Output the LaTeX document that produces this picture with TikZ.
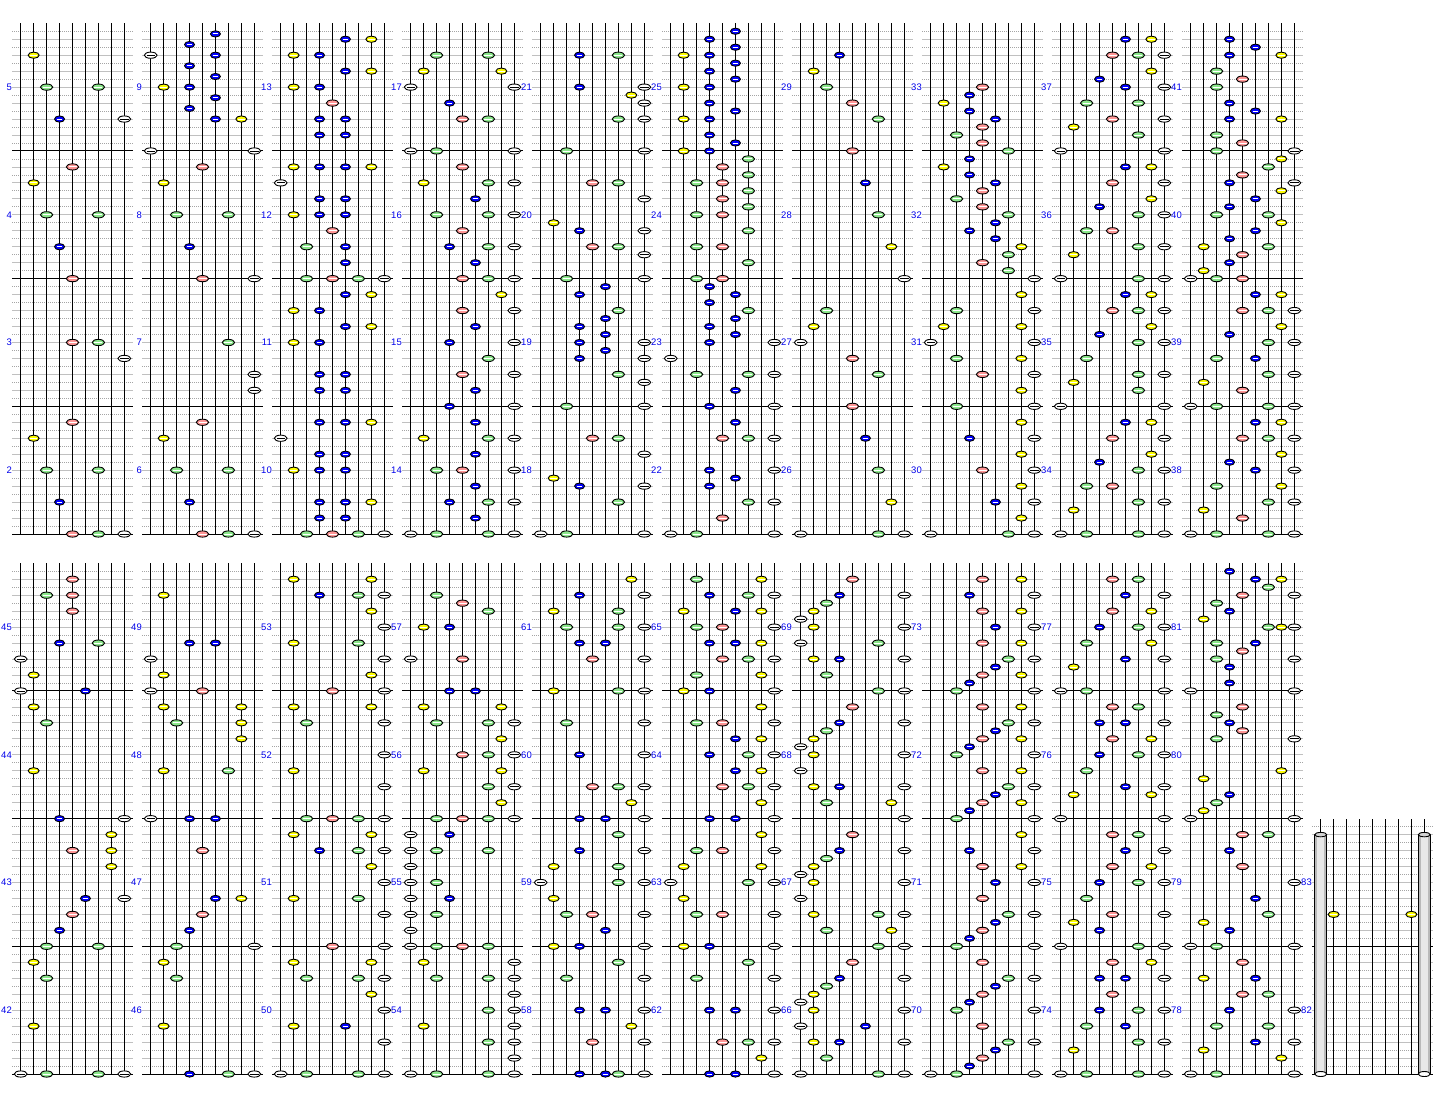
\documentclass[tikz,border=0pt]{standalone}
\usepackage{fontspec}
\setmainfont{Liberation Sans}
\definecolor{nY}{RGB}{255,255,0}
\definecolor{nG}{RGB}{140,232,140}
\definecolor{nB}{RGB}{0,0,255}
\definecolor{nR}{RGB}{255,150,150}
\definecolor{lbc}{RGB}{0,0,235}
\definecolor{glc}{RGB}{192,192,192}
\definecolor{dlc}{RGB}{165,165,165}
\tikzset{
  gline/.style={draw=glc,line width=0.8pt},
  dline/.style={draw=dlc,line width=0.8pt,dash pattern=on 1pt off 1pt},
  mline/.style={draw=black,line width=1pt},
  vline/.style={draw=black,line width=0.9pt},
  lbl/.style={text=lbc,font=\fontsize{9.5}{10}\selectfont,anchor=east,inner sep=0pt},
}
\newcommand\nt[2]{%
 \pgfmathsetmacro\nx{20.7+12.95*(#1-1)}%
 \pgfmathsetmacro\ny{-7.98*(#2)}%
 \ifcase#1\relax\or
   \def\nc{white}\def\na{6.4}\def\sc{black}\or
   \def\nc{nY}\def\na{5.5}\def\sc{white}\or
   \def\nc{nG}\def\na{6.2}\def\sc{white}\or
   \def\nc{nB}\def\na{5}\def\sc{white}\or
   \def\nc{nR}\def\na{6.2}\def\sc{white}\or
   \def\nc{nB}\def\na{5}\def\sc{white}\or
   \def\nc{nG}\def\na{6.2}\def\sc{white}\or
   \def\nc{nY}\def\na{5.5}\def\sc{white}\or
   \def\nc{white}\def\na{6.4}\def\sc{black}\fi
 \filldraw[fill=\nc,draw=black,line width=0.9pt] (\nx,\ny) ellipse [x radius=\na pt,y radius=3.1pt];
 \draw[draw=\sc,line width=0.9pt] (\nx-\na+2.2,\ny) -- (\nx+\na-2.2,\ny);
}
% grid: col, bottom, last row index
\newcommand\grid[3]{%
 \begin{scope}[shift={(130*#1,#2)}]
  \foreach \k in {1,...,#3}{%
    \pgfmathtruncatemacro\mm{mod(\k,16)}%
    \pgfmathtruncatemacro\ee{mod(\k,2)}%
    \ifnum\mm=0 \else
      \ifnum\ee=0 \draw[gline] (12,-7.98*\k) -- (132.7,-7.98*\k);
      \else \draw[dline] (12,-7.98*\k) -- (132.7,-7.98*\k);\fi
    \fi}
  \foreach \l in {0,...,8}{\draw[vline] (20.7+12.95*\l,0) -- (20.7+12.95*\l,{-7.98*(#3+1)});}
  \foreach \k in {0,16,...,#3}{\draw[mline] (12,-7.98*\k) -- (132.7,-7.98*\k);}
 \end{scope}}
\newcommand\labs[3]{% col, bottom, first measure
 \begin{scope}[shift={(130*#1,#2)}]
  \foreach \i in {0,1,2,3}{\pgfmathtruncatemacro\mn{#3+\i}\node[lbl] at (12,{-7.98*(8+16*\i)}) {\mn};}
 \end{scope}}
\newcommand\notes[3]{% col, bottom, list
 \begin{scope}[shift={(130*#1,#2)}]
  \foreach \l/\r in {#3}{\nt{\l}{\r}}
 \end{scope}}
\begin{document}
\begin{tikzpicture}[x=1pt,y=-1pt]
\useasboundingbox (0,0) rectangle (1448,1100);
\fill[white] (0,0) rectangle (1448,1100);
% grids
\foreach \c in {0,...,9}{\grid{\c}{534}{63}\grid{\c}{1074}{63}}
\grid{10}{1074}{31}
% labels
\foreach \c in {0,...,9}{\pgfmathtruncatemacro\fa{2+4*\c}\pgfmathtruncatemacro\fb{42+4*\c}\labs{\c}{534}{\fa}\labs{\c}{1074}{\fb}}
\begin{scope}[shift={(1300,1074)}]
 \node[lbl] at (12,{-7.98*8}) {82};
 \node[lbl] at (12,{-7.98*24}) {83};
\end{scope}
% row 1
\notes{0}{534}{2/60,3/56,7/56,4/52,9/52,5/46,2/44,3/40,7/40,4/36,5/32,5/24,7/24,9/22,5/14,2/12,3/8,7/8,4/4,5/0,7/0,9/0}
\notes{1}{534}{6/62.67,6/60,6/57.33,6/54.67,6/52,4/61.33,4/58.67,4/56,4/53.33,1/60,2/56,8/52,1/48,9/48,5/46,2/44,3/40,7/40,4/36,5/32,9/32,7/24,9/20,9/18,5/14,2/12,3/8,7/8,4/4,5/0,7/0,9/0}
\notes{2}{534}{6/62,8/62,2/60,4/60,6/58,8/58,2/56,4/56,5/54,4/52,6/52,4/50,6/50,2/46,4/46,6/46,8/46,1/44,4/42,6/42,2/40,4/40,6/40,5/38,3/36,6/36,6/34,3/32,5/32,7/32,9/32,6/30,8/30,2/28,4/28,6/26,8/26,2/24,4/24,4/20,6/20,4/18,6/18,4/14,6/14,8/14,1/12,4/10,6/10,2/8,4/8,6/8,4/4,6/4,8/4,4/2,6/2,3/0,5/0,7/0,9/0}
\notes{3}{534}{3/60,7/60,2/58,8/58,1/56,9/56,4/54,5/52,7/52,1/48,3/48,9/48,5/46,2/44,7/44,9/44,6/42,3/40,7/40,9/40,5/38,4/36,7/36,9/36,6/34,5/32,7/32,9/32,8/30,5/28,9/28,6/26,4/24,9/24,7/22,5/20,9/20,6/18,4/16,9/16,6/14,2/12,7/12,9/12,6/10,3/8,5/8,9/8,6/6,4/4,7/4,9/4,6/2,1/0,3/0,7/0,9/0}
\notes{4}{534}{4/60,7/60,4/56,9/56,8/55,9/54,7/52,9/52,3/48,9/48,5/44,7/44,9/42,2/39,4/38,9/38,5/36,7/36,9/35,3/32,9/32,6/31,4/30,7/28,6/27,4/26,6/25,4/24,9/24,6/23,4/22,9/22,7/20,9/19,3/16,9/16,5/12,7/12,9/10,2/7,4/6,9/6,7/4,1/0,3/0,9/0}
\notes{5}{534}{2/60,2/56,2/52,2/48,4/62,4/60,4/58,4/56,4/54,4/52,4/50,4/48,6/63,6/61,6/59,6/57,6/53,6/49,7/47,5/46,7/45,3/44,5/44,7/43,5/42,7/41,3/40,5/40,7/38,3/36,5/36,7/34,3/32,5/32,4/31,6/30,4/29,7/28,6/27,4/26,6/25,4/24,9/24,1/22,3/20,7/20,9/20,6/18,4/16,9/16,6/14,5/12,7/12,9/12,4/8,9/8,6/7,4/6,7/4,9/4,5/2,1/0,3/0,9/0}
\notes{6}{534}{4/60,2/58,3/56,5/54,7/52,5/48,6/44,7/40,8/36,9/32,3/28,2/26,1/24,5/22,7/20,5/16,6/12,7/8,8/4,1/0,7/0,9/0}
\notes{7}{534}{5/56,4/55,2/54,4/53,6/52,5/51,3/50,5/49,7/48,4/47,2/46,4/45,6/44,5/43,3/42,5/41,7/40,6/39,4/38,6/37,8/36,7/35,5/34,7/33,9/32,8/30,3/28,9/28,2/26,8/26,1/24,9/24,3/22,8/22,5/20,9/20,8/18,3/16,9/16,8/14,4/12,9/12,8/10,5/8,9/8,8/6,6/4,9/4,8/2,1/0,7/0,9/0}
\notes{8}{534}{6/62,8/62,5/60,7/60,9/60,8/58,4/57,6/56,9/56,3/54,7/54,5/52,9/52,2/51,7/50,1/48,9/48,6/46,8/46,5/44,9/44,8/42,4/41,7/40,9/40,3/38,5/38,7/36,9/36,2/35,1/32,7/32,9/32,6/30,8/30,5/28,7/28,9/28,8/26,4/25,7/24,9/24,3/22,7/20,9/20,2/19,7/18,1/16,9/16,6/14,8/14,5/12,9/12,8/10,4/9,7/8,9/8,3/6,5/6,7/4,9/4,2/3,1/0,3/0,7/0,9/0}
\notes{9}{534}{4/62,6/61,4/60,8/60,3/58,5/57,3/56,4/54,6/53,4/52,8/52,3/50,5/49,3/48,9/48,8/47,7/46,5/45,4/44,9/44,8/43,6/42,4/41,3/40,7/40,8/39,6/38,4/37,2/36,7/36,5/35,4/34,2/33,1/32,3/32,5/32,6/30,8/30,5/28,7/28,9/28,8/26,4/25,7/24,9/24,3/22,6/22,7/20,9/20,2/19,5/18,1/16,3/16,7/16,9/16,6/14,8/14,5/12,7/12,9/12,8/10,4/9,6/8,9/8,3/6,8/6,7/4,9/4,2/3,5/2,1/0,3/0,7/0,9/0}
% row 2
\notes{0}{1074}{5/62,3/60,5/60,5/58,4/54,7/54,1/52,2/50,1/48,6/48,2/46,3/44,2/38,4/32,9/32,8/30,5/28,8/28,8/26,6/22,9/22,5/20,4/18,3/16,7/16,2/14,3/12,2/6,1/0,3/0,7/0,9/0}
\notes{1}{1074}{2/60,4/54,6/54,1/52,2/50,1/48,5/48,2/46,8/46,3/44,8/44,8/42,2/38,7/38,1/32,4/32,6/32,5/28,6/22,8/22,5/20,4/18,3/16,9/16,2/14,3/12,2/6,4/0,7/0,9/0}
\notes{2}{1074}{2/62,8/62,4/60,7/60,9/60,8/58,9/56,2/54,7/54,9/52,8/50,5/48,9/48,2/46,8/46,3/44,9/44,9/40,2/38,9/36,3/32,5/32,7/32,9/32,2/30,8/30,4/28,7/28,9/28,8/26,9/24,2/22,7/22,9/20,5/16,9/16,2/14,8/14,3/12,7/12,9/12,8/10,9/8,2/6,6/6,9/4,1/0,3/0,7/0,9/0}
\notes{3}{1074}{3/60,5/59,7/58,2/56,4/56,1/52,5/52,4/48,6/48,2/46,8/46,3/44,7/44,9/44,8/42,5/40,7/40,9/40,2/38,8/38,7/36,9/36,8/34,3/32,5/32,7/32,9/32,1/30,4/30,1/28,3/28,7/28,1/26,1/24,3/24,1/22,4/22,1/20,3/20,1/18,1/16,3/16,5/16,7/16,2/14,9/14,3/12,7/12,9/12,9/10,7/8,9/8,2/6,9/6,7/4,9/4,9/2,1/0,3/0,7/0,9/0}
\notes{4}{1074}{8/62,4/60,9/60,2/58,7/58,3/56,7/56,9/56,4/54,6/54,5/52,9/52,2/48,7/48,9/48,3/44,9/44,4/40,9/40,5/36,7/36,9/36,8/34,4/32,6/32,9/32,7/30,4/28,9/28,2/26,7/26,1/24,7/24,9/24,2/22,3/20,5/20,9/20,6/18,2/16,4/16,9/16,7/14,3/12,9/12,4/8,6/8,9/8,8/6,5/4,9/4,4/0,6/0,7/0,9/0}
\notes{5}{1074}{3/62,8/62,4/60,7/60,9/60,2/58,6/58,8/58,3/56,5/56,9/56,4/54,6/54,8/54,5/52,7/52,9/52,3/50,8/50,2/48,4/48,9/48,8/46,3/44,5/44,9/44,6/42,8/42,4/40,7/40,9/40,6/38,8/38,5/36,7/36,9/36,8/34,4/32,6/32,9/32,8/30,3/28,5/28,9/28,2/26,8/26,1/24,7/24,9/24,2/22,3/20,5/20,9/20,2/16,4/16,9/16,7/14,3/12,9/12,4/8,6/8,9/8,5/4,7/4,9/4,8/2,4/0,6/0,9/0}
\notes{6}{1074}{5/62,4/60,9/60,3/59,2/58,1/57,2/56,9/56,1/54,7/54,2/52,4/52,9/52,3/50,7/48,9/48,5/46,4/44,9/44,3/43,2/42,1/41,2/40,9/40,1/38,2/36,4/36,9/36,3/34,8/34,9/32,5/30,4/28,9/28,3/27,2/26,1/25,2/24,9/24,1/22,2/20,7/20,9/20,3/18,8/18,7/16,9/16,5/14,4/12,9/12,3/11,2/10,1/9,2/8,9/8,1/6,6/6,2/4,4/4,9/4,3/2,1/0,7/0,9/0}
\notes{7}{1074}{5/62,8/62,4/60,9/60,5/58,8/58,6/56,9/56,5/54,8/54,7/52,9/52,6/51,5/50,8/50,4/49,3/48,9/48,5/46,8/46,7/44,9/44,6/43,5/42,8/42,4/41,3/40,9/40,5/38,8/38,7/36,9/36,6/35,5/34,8/34,4/33,3/32,9/32,8/30,4/28,9/28,5/26,8/26,6/24,9/24,5/22,7/20,9/20,6/19,5/18,4/17,3/16,9/16,5/14,7/12,9/12,6/11,5/10,4/9,3/8,9/8,5/6,7/4,9/4,6/3,5/2,4/1,1/0,3/0,9/0}
\notes{8}{1074}{5/62,7/62,6/60,9/60,5/58,8/58,4/56,7/56,9/56,3/54,8/54,6/52,9/52,2/51,1/48,3/48,9/48,5/46,7/46,4/44,6/44,9/44,5/42,8/42,4/40,7/40,9/40,3/38,6/36,9/36,2/35,8/35,1/32,9/32,5/30,7/30,6/28,9/28,5/26,8/26,4/24,7/24,9/24,3/22,5/20,9/20,2/19,4/18,1/16,7/16,9/16,5/14,8/14,4/12,6/12,9/12,5/10,4/8,7/8,9/8,3/6,6/6,7/4,9/4,2/3,1/0,3/0,7/0,9/0}
\notes{9}{1074}{4/63,6/62,8/62,7/61,5/60,9/60,3/59,4/58,2/57,7/56,8/56,9/56,3/54,6/54,5/53,3/52,9/52,4/51,4/49,1/48,9/48,5/46,3/45,4/44,5/43,3/42,9/42,8/38,2/37,4/35,3/34,2/33,1/32,9/32,5/30,7/30,4/28,5/26,9/24,6/22,7/20,2/19,4/18,1/16,3/16,9/16,5/14,2/12,6/12,5/10,7/10,4/8,9/8,3/6,7/6,6/4,9/4,2/3,8/2,1/0,3/0,9/0}
% last panel: long notes
\begin{scope}[shift={(1300,1074)}]
 \foreach \xx in {20.7,124.3}{
  \fill[gray!55] (\xx-6,0) rectangle (\xx+6,-239.4);
  \fill[gray!18] (\xx-3.5,0) rectangle (\xx+3.5,-239.4);
  \draw[line width=0.9pt] (\xx-6,0) -- (\xx-6,-239.4) (\xx+6,0) -- (\xx+6,-239.4);
  \filldraw[fill=gray!35,draw=black,line width=0.9pt] (\xx,-239.4) ellipse [x radius=6pt,y radius=2.2pt];
  \filldraw[fill=white,draw=black,line width=0.9pt] (\xx,0) ellipse [x radius=6pt,y radius=2.5pt];
 }
\end{scope}
\notes{10}{1074}{2/20,8/20}
\end{tikzpicture}
\end{document}
